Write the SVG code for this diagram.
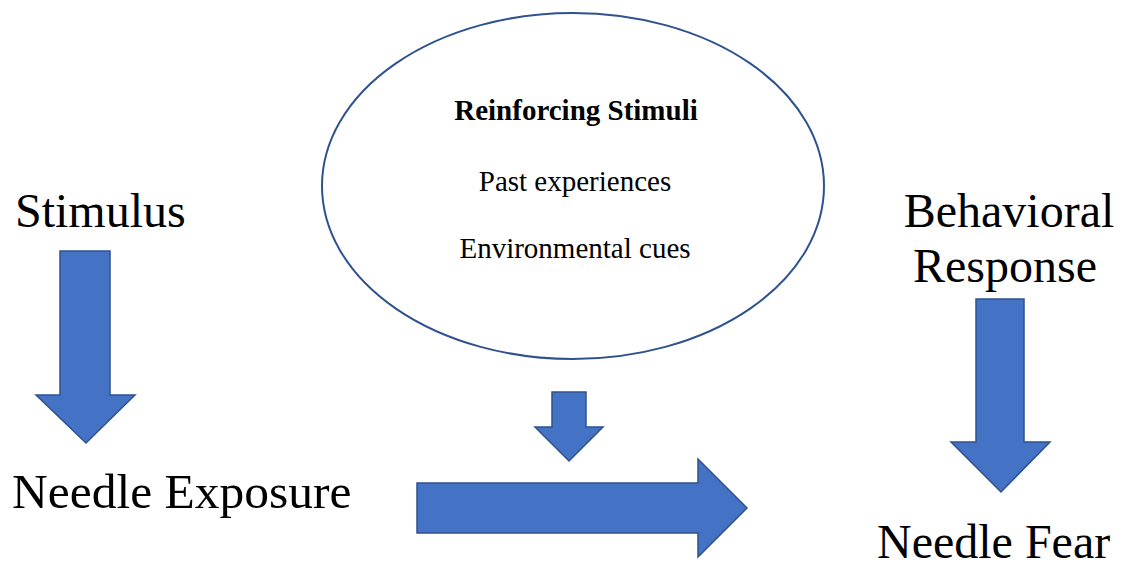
<svg xmlns="http://www.w3.org/2000/svg" width="1127" height="570" viewBox="0 0 1127 570">
  <style>
    .lbl { font-family: "Liberation Serif", "Times New Roman", serif; font-size: 48px; fill: #000; }
    .in { font-family: "Liberation Serif", "Times New Roman", serif; font-size: 29px; fill: #000; text-anchor: middle; }
    .arrow { fill: #4472C4; stroke: #2F528F; stroke-width: 1.5; stroke-linejoin: miter; }
  </style>
  <rect width="1127" height="570" fill="#ffffff"/>
  <g id="stimulus">
    <text class="lbl" x="15" y="227">Stimulus</text>
  </g>
  <g id="needle-exposure">
    <text class="lbl" x="12" y="508" style="font-size:49.5px">Needle Exposure</text>
  </g>
  <g id="reinforcing-stimuli">
    <ellipse cx="573" cy="186" rx="251" ry="173" fill="#ffffff" stroke="#2F528F" stroke-width="2"/>
    <text class="in" x="576" y="120" font-weight="bold">Reinforcing Stimuli</text>
    <text class="in" x="575" y="191">Past experiences</text>
    <text class="in" x="575" y="258">Environmental cues</text>
  </g>
  <g id="behavioral-response">
    <text class="lbl" x="1009" y="227" text-anchor="middle">Behavioral</text>
    <text class="lbl" x="1005" y="282" text-anchor="middle">Response</text>
  </g>
  <g id="needle-fear">
    <text class="lbl" x="877" y="558">Needle Fear</text>
  </g>
  <g id="connectors">
    <polygon class="arrow" points="60,251 110,251 110,395 135,395 86,443 36,395 60,395"/>
    <polygon class="arrow" points="552,392 586,392 586,427 603,427 569,461 535,427 552,427"/>
    <polygon class="arrow" points="417,483 698,483 698,459 747,508 698,557 698,533 417,533"/>
    <polygon class="arrow" points="976,299 1024,299 1024,442 1050,442 1001,492 951,442 976,442"/>
  </g>
</svg>
